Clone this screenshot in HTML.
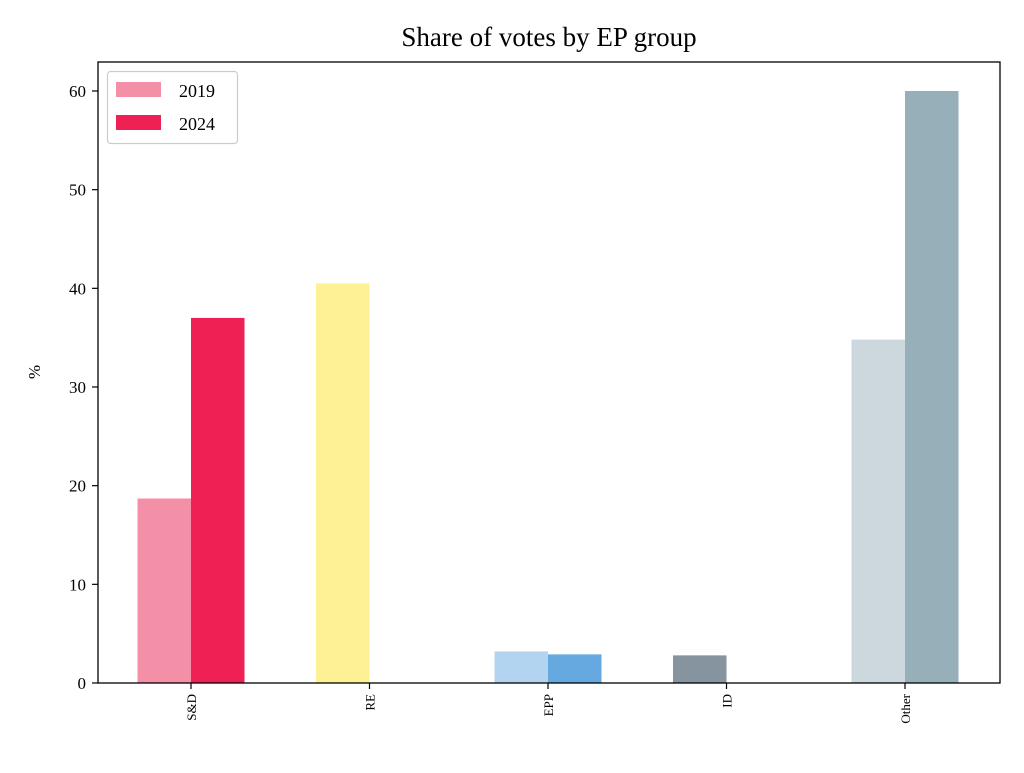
<!DOCTYPE html>
<html><head><meta charset="utf-8"><style>
body{margin:0;background:#fff}
svg text{font-family:"Liberation Serif",serif;fill:#000}
</style></head><body>
<svg id="chart" width="1024" height="768" viewBox="0 0 1024 768" xmlns="http://www.w3.org/2000/svg">
<text x="549" y="46" font-size="27" text-anchor="middle">Share of votes by EP group</text>
<text transform="translate(40,372) rotate(-90)" font-size="17" text-anchor="middle">%</text>
<g id="ticks"></g>
<g id="bars"></g>
<rect x="98" y="62" width="902" height="621" fill="none" stroke="#000" stroke-width="1.3"/>
<g>
<rect x="107.5" y="71.5" width="130" height="72" rx="3" fill="#fff" stroke="#ccc" stroke-width="1.2"/>
<rect x="116" y="82" width="45" height="15" fill="#f48fa8"/>
<text x="179" y="97" font-size="18">2019</text>
<rect x="116" y="115" width="45" height="15" fill="#ee2054"/>
<text x="179" y="130" font-size="18">2024</text>
</g>
</svg>
<script>
const categories=["S&D","RE","EPP","ID","Other"];
const values2019=[18.7,40.5,3.2,2.8,34.8];
const values2024=[37.0,0,2.9,0,60.0];
const colors2019=["#f48fa8","#fef094","#b3d4f0","#85949f","#ccd7de"];
const colors2024=["#ee2054","#fef094","#66a8e0","#85949f","#97afb9"];
const yTicks=[0,10,20,30,40,50,60];
const NS="http://www.w3.org/2000/svg";
const y0=683,yPer=9.8667;
const yS=v=>y0-v*yPer;
const xC=i=>191+i*178.5;
const bw=53.5;
const tg=document.getElementById('ticks'),bg=document.getElementById('bars');
function mk(t,a){const e=document.createElementNS(NS,t);for(const k in a)e.setAttribute(k,a[k]);return e;}
yTicks.forEach(t=>{
 const l=mk('line',{x1:92,x2:98,y1:yS(t),y2:yS(t),stroke:'#000','stroke-width':1.2});
 
 
 tg.appendChild(l);
 const tx=mk('text',{x:86,y:yS(t)+6,'font-size':17,'text-anchor':'end'});
 tx.textContent=t;
 
 
 tg.appendChild(tx);
});
categories.forEach((c,i)=>{
 [[values2019,colors2019,-1,'2019'],[values2024,colors2024,0,'2024']].forEach(([vals,cols,off,yr])=>{
  const v=vals[i];if(!v)return;
  const r=mk('rect',{x:xC(i)+off*bw,y:yS(v),width:bw,height:v*yPer,fill:cols[i]});
  
  
  bg.appendChild(r);
 });
 const l=mk('line',{x1:xC(i),x2:xC(i),y1:683,y2:689,stroke:'#000','stroke-width':1.2});
 
 
 tg.appendChild(l);
 const tx=mk('text',{transform:`translate(${xC(i)+5},694) rotate(-90)`,'font-size':13,'text-anchor':'end'});
 tx.textContent=c;
 
 
 tg.appendChild(tx);
});
</script>
</body></html>
